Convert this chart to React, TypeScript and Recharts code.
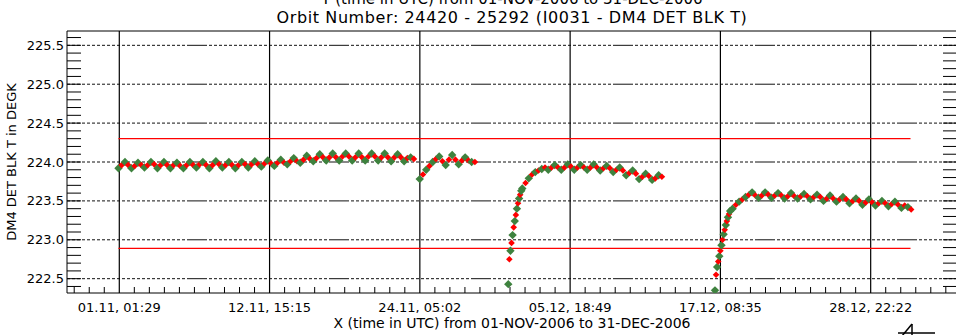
import React from 'react';
import { ScatterChart, Scatter, XAxis, YAxis, ReferenceLine } from 'recharts';

const FONT = '"DejaVu Sans", Verdana, sans-serif';

// Time axis: days since 2006-11-01 00:00 UTC
const X_MIN = -3.966;
const X_MAX = 64.58;
const Y_MIN = 222.316;
const Y_MAX = 225.684;

const xMajorDays = [0.0618, 11.6354, 23.2097, 34.784, 46.3576, 57.9319];
const xMajorLabels = ['01.11, 01:29', '12.11, 15:15', '24.11, 05:02', '05.12, 18:49', '17.12, 08:35', '28.12, 22:22'];

const yMajorTicks = [222.5, 223.0, 223.5, 224.0, 224.5, 225.0, 225.5];
const yMajorLabels = ['222.5', '223.0', '223.5', '224.0', '224.5', '225.0', '225.5'];

// Temperature limits (DEGK), drawn over 01-NOV 00:00 .. 31-DEC 24:00
const upperLimit = 224.30;
const lowerLimit = 222.89;
const limitStart = 0;
const limitEnd = 61;

// Measurement blocks: first sample (days), sample spacing (days), temperatures in time order.
// Even samples belong to the green channel, odd samples to the red channel.
const block1Start = 0.0;
const block1Step = 0.25;
const block1 = [
  223.92, 223.96, 224.00, 223.96, 223.92, 223.95, 223.99, 223.96, 223.93, 223.96, 224.00, 223.97,
  223.92, 223.96, 224.00, 223.96, 223.92, 223.96, 223.99, 223.95, 223.92, 223.96, 224.00, 223.96,
  223.93, 223.97, 224.00, 223.96, 223.92, 223.96, 224.01, 223.97, 223.93, 223.96, 224.00, 223.96,
  223.92, 223.96, 224.00, 223.97, 223.93, 223.97, 224.01, 223.97, 223.94, 223.98, 224.02, 223.98,
  223.95, 223.99, 224.03, 223.99, 223.97, 224.01, 224.05, 224.01, 223.99, 224.03, 224.08, 224.04,
  224.01, 224.05, 224.10, 224.06, 224.02, 224.06, 224.11, 224.06, 224.02, 224.07, 224.11, 224.07,
  224.02, 224.06, 224.11, 224.06, 224.02, 224.07, 224.11, 224.07, 224.02, 224.06, 224.11, 224.06,
  224.01, 224.06, 224.10, 224.06, 224.01, 224.05, 224.06, 224.04,
];

const block2Start = 23.2;
const block2Step = 0.25;
const block2 = [
  223.78, 223.84, 223.90, 223.95, 224.00, 224.04, 224.07, 224.01, 223.96, 224.03, 224.09, 224.03,
  223.97, 224.02, 224.06, 224.02, 224.00, 224.00,
];

const block3RiseStart = 30.02;
const block3RiseStep = 1 / 12;
const block3Rise = [
  222.43, 222.75, 222.86, 222.96, 223.06, 223.16, 223.24, 223.32, 223.40, 223.47, 223.53, 223.58, 223.63,
];

const block3Start = 31.1;
const block3Step = 0.25;
const block3 = [
  223.66, 223.73, 223.79, 223.84, 223.87, 223.89, 223.91, 223.93, 223.90, 223.93, 223.96, 223.93,
  223.90, 223.93, 223.97, 223.94, 223.90, 223.93, 223.96, 223.93, 223.90, 223.93, 223.97, 223.93,
  223.89, 223.92, 223.95, 223.92, 223.87, 223.90, 223.93, 223.89, 223.83, 223.86, 223.89, 223.85,
  223.78, 223.81, 223.85, 223.82, 223.77, 223.79, 223.83, 223.81,
];

const block4RiseStart = 45.94;
const block4RiseStep = 1 / 12;
const block4Rise = [
  222.35, 222.55, 222.65, 222.72, 222.79, 222.86, 222.93, 223.00, 223.07, 223.13, 223.19, 223.24,
  223.29, 223.33, 223.37,
];

const block4Start = 47.3;
const block4Step = 0.25;
const block4 = [
  223.40, 223.45, 223.49, 223.52, 223.55, 223.58, 223.61, 223.57, 223.54, 223.57, 223.61, 223.58,
  223.54, 223.57, 223.60, 223.57, 223.53, 223.56, 223.60, 223.56, 223.53, 223.56, 223.59, 223.56,
  223.52, 223.55, 223.58, 223.55, 223.50, 223.53, 223.57, 223.53, 223.49, 223.52, 223.55, 223.52,
  223.47, 223.50, 223.53, 223.50, 223.45, 223.48, 223.52, 223.48, 223.44, 223.47, 223.50, 223.47,
  223.43, 223.46, 223.49, 223.45, 223.41, 223.44, 223.42, 223.39,
];

const GREEN = '#3e823e';
const RED = '#ff0000';

// Grid dash: a run of short dashes closed by one long dash
const GRID_DASH = Array(24).fill('3 2').join(' ') + ' 20 2';

type Pt = { d: number; t: number; color: string; r: number };

const blocks: [number, number, number[]][] = [
  [block1Start, block1Step, block1],
  [block2Start, block2Step, block2],
  [block3RiseStart, block3RiseStep, block3Rise],
  [block3Start, block3Step, block3],
  [block4RiseStart, block4RiseStep, block4Rise],
  [block4Start, block4Step, block4],
];

const points: Pt[] = [];
blocks.forEach(([start, step, vals]) => {
  vals.forEach((t, i) => {
    const green = i % 2 === 0;
    points.push({ d: start + i * step, t, color: green ? GREEN : RED, r: green ? 4.2 : 3.3 });
  });
});

// Tick positions: ten minor intervals per labelled interval on X, 0.1 K on Y
const xMinorStep = (xMajorDays[xMajorDays.length - 1] - xMajorDays[0]) / ((xMajorDays.length - 1) * 10);
const xTicks: number[] = [];
for (let k = -10; k <= 80; k++) {
  const v = xMajorDays[0] + k * xMinorStep;
  if (v >= X_MIN && v <= X_MAX) xTicks.push(v);
}
const yTicks: number[] = [];
for (let k = 0; k <= 32; k++) {
  yTicks.push(Math.round((222.4 + k * 0.1) * 100) / 100);
}

const xMajorIndex = (v: number) => xMajorDays.findIndex((m) => Math.abs(m - v) < 0.01);
const yMajorIndex = (v: number) => yMajorTicks.findIndex((m) => Math.abs(m - v) < 1e-6);

const BottomTick = (props: any) => {
  const { x, y, payload } = props;
  const i = xMajorIndex(payload.value);
  if (i >= 0) {
    return (
      <text x={x} y={y + 19} textAnchor="middle" fontFamily={FONT} fontSize={13} fill="#000">
        {xMajorLabels[i]}
      </text>
    );
  }
  return <line x1={x} x2={x} y1={y} y2={y - 6} stroke="#000" strokeWidth={1} />;
};

const TopTick = (props: any) => {
  const { x, y } = props;
  return <line x1={x} x2={x} y1={y} y2={y + 6} stroke="#000" strokeWidth={1} />;
};

const LeftTick = (props: any) => {
  const { x, y, payload } = props;
  const i = yMajorIndex(payload.value);
  return (
    <g>
      <line x1={x} x2={x + 14} y1={y} y2={y} stroke="#000" strokeWidth={1} />
      {i >= 0 && (
        <text x={x - 3} y={y + 4.5} textAnchor="end" fontFamily={FONT} fontSize={13} fill="#000">
          {yMajorLabels[i]}
        </text>
      )}
    </g>
  );
};

const RightTick = (props: any) => {
  const { x, y } = props;
  return <line x1={x} x2={x - 14} y1={y} y2={y} stroke="#000" strokeWidth={1} />;
};

const Diamond = (props: any) => {
  const { cx, cy, payload } = props;
  if (cx == null || cy == null) return null;
  const r = payload.r;
  return (
    <polygon
      points={`${cx},${cy - r} ${cx + r},${cy} ${cx},${cy + r} ${cx - r},${cy}`}
      fill={payload.color}
    />
  );
};

export default function App() {
  return (
    <div
      style={{
        position: 'absolute',
        left: 0,
        top: 0,
        width: 956,
        height: 335,
        overflow: 'hidden',
        background: '#fff',
      }}
    >
      <ScatterChart width={966} height={335} margin={{ top: 0, right: 0, bottom: 0, left: 0 }}>
        <XAxis
          xAxisId="b"
          type="number"
          dataKey="d"
          orientation="bottom"
          domain={[X_MIN, X_MAX]}
          allowDataOverflow
          ticks={xTicks}
          interval={0}
          height={42}
          tickSize={0}
          tickMargin={0}
          tickLine={false}
          axisLine={{ stroke: '#000', strokeWidth: 1 }}
          tick={BottomTick}
        />
        <XAxis
          xAxisId="t"
          type="number"
          orientation="top"
          domain={[X_MIN, X_MAX]}
          allowDataOverflow
          ticks={xTicks}
          interval={0}
          height={31}
          tickSize={0}
          tickMargin={0}
          tickLine={false}
          axisLine={{ stroke: '#000', strokeWidth: 1 }}
          tick={TopTick}
        />
        <YAxis
          yAxisId="l"
          type="number"
          dataKey="t"
          orientation="left"
          domain={[Y_MIN, Y_MAX]}
          allowDataOverflow
          ticks={yTicks}
          interval={0}
          width={67}
          tickSize={0}
          tickMargin={0}
          tickLine={false}
          axisLine={{ stroke: '#000', strokeWidth: 1 }}
          tick={LeftTick}
        />
        <YAxis
          yAxisId="r"
          type="number"
          orientation="right"
          domain={[Y_MIN, Y_MAX]}
          allowDataOverflow
          ticks={yTicks}
          interval={0}
          width={9}
          tickSize={0}
          tickMargin={0}
          tickLine={false}
          axisLine={{ stroke: '#000', strokeWidth: 1 }}
          tick={RightTick}
        />
        {yMajorTicks.map((v) => (
          <ReferenceLine
            key={'gy' + v}
            xAxisId="b"
            yAxisId="l"
            y={v}
            stroke="#111"
            strokeWidth={1}
            strokeDasharray={GRID_DASH}
          />
        ))}
        {xMajorDays.map((v) => (
          <ReferenceLine key={'gx' + v} xAxisId="b" yAxisId="l" x={v} stroke="#000" strokeWidth={1.2} />
        ))}
        <ReferenceLine
          xAxisId="b"
          yAxisId="l"
          segment={[
            { x: limitStart, y: upperLimit },
            { x: limitEnd, y: upperLimit },
          ]}
          stroke={RED}
          strokeWidth={1.3}
        />
        <ReferenceLine
          xAxisId="b"
          yAxisId="l"
          segment={[
            { x: limitStart, y: lowerLimit },
            { x: limitEnd, y: lowerLimit },
          ]}
          stroke={RED}
          strokeWidth={1.3}
        />
        <Scatter
          xAxisId="b"
          yAxisId="l"
          data={points}
          dataKey="t"
          shape={Diamond}
          isAnimationActive={false}
        />
      </ScatterChart>
      <svg
        width={956}
        height={335}
        style={{ position: 'absolute', left: 0, top: 0, pointerEvents: 'none' }}
      >
        <text x={512} y={4} textAnchor="middle" fontFamily={FONT} fontSize={15} fill="#000">
          Y (time in UTC) from 01-NOV-2006 to 31-DEC-2006
        </text>
        <text
          x={512}
          y={23}
          textAnchor="middle"
          fontFamily={FONT}
          fontSize={16}
          letterSpacing={0.6}
          fill="#000"
        >
          Orbit Number: 24420 - 25292 (I0031 - DM4 DET BLK T)
        </text>
        <text x={512} y={328} textAnchor="middle" fontFamily={FONT} fontSize={14} fill="#000">
          X (time in UTC) from 01-NOV-2006 to 31-DEC-2006
        </text>
        <text
          x={16}
          y={162}
          textAnchor="middle"
          fontFamily={FONT}
          fontSize={13}
          fill="#000"
          transform="rotate(-90 16 162)"
        >
          DM4 DET BLK T in DEGK
        </text>
        <g stroke="#000" strokeWidth={1.5} fill="none">
          <line x1={898} y1={333} x2={935} y2={333} />
          <line x1={902} y1={336} x2={912} y2={324} />
          <line x1={912} y1={324} x2={912} y2={336} />
        </g>
      </svg>
    </div>
  );
}
